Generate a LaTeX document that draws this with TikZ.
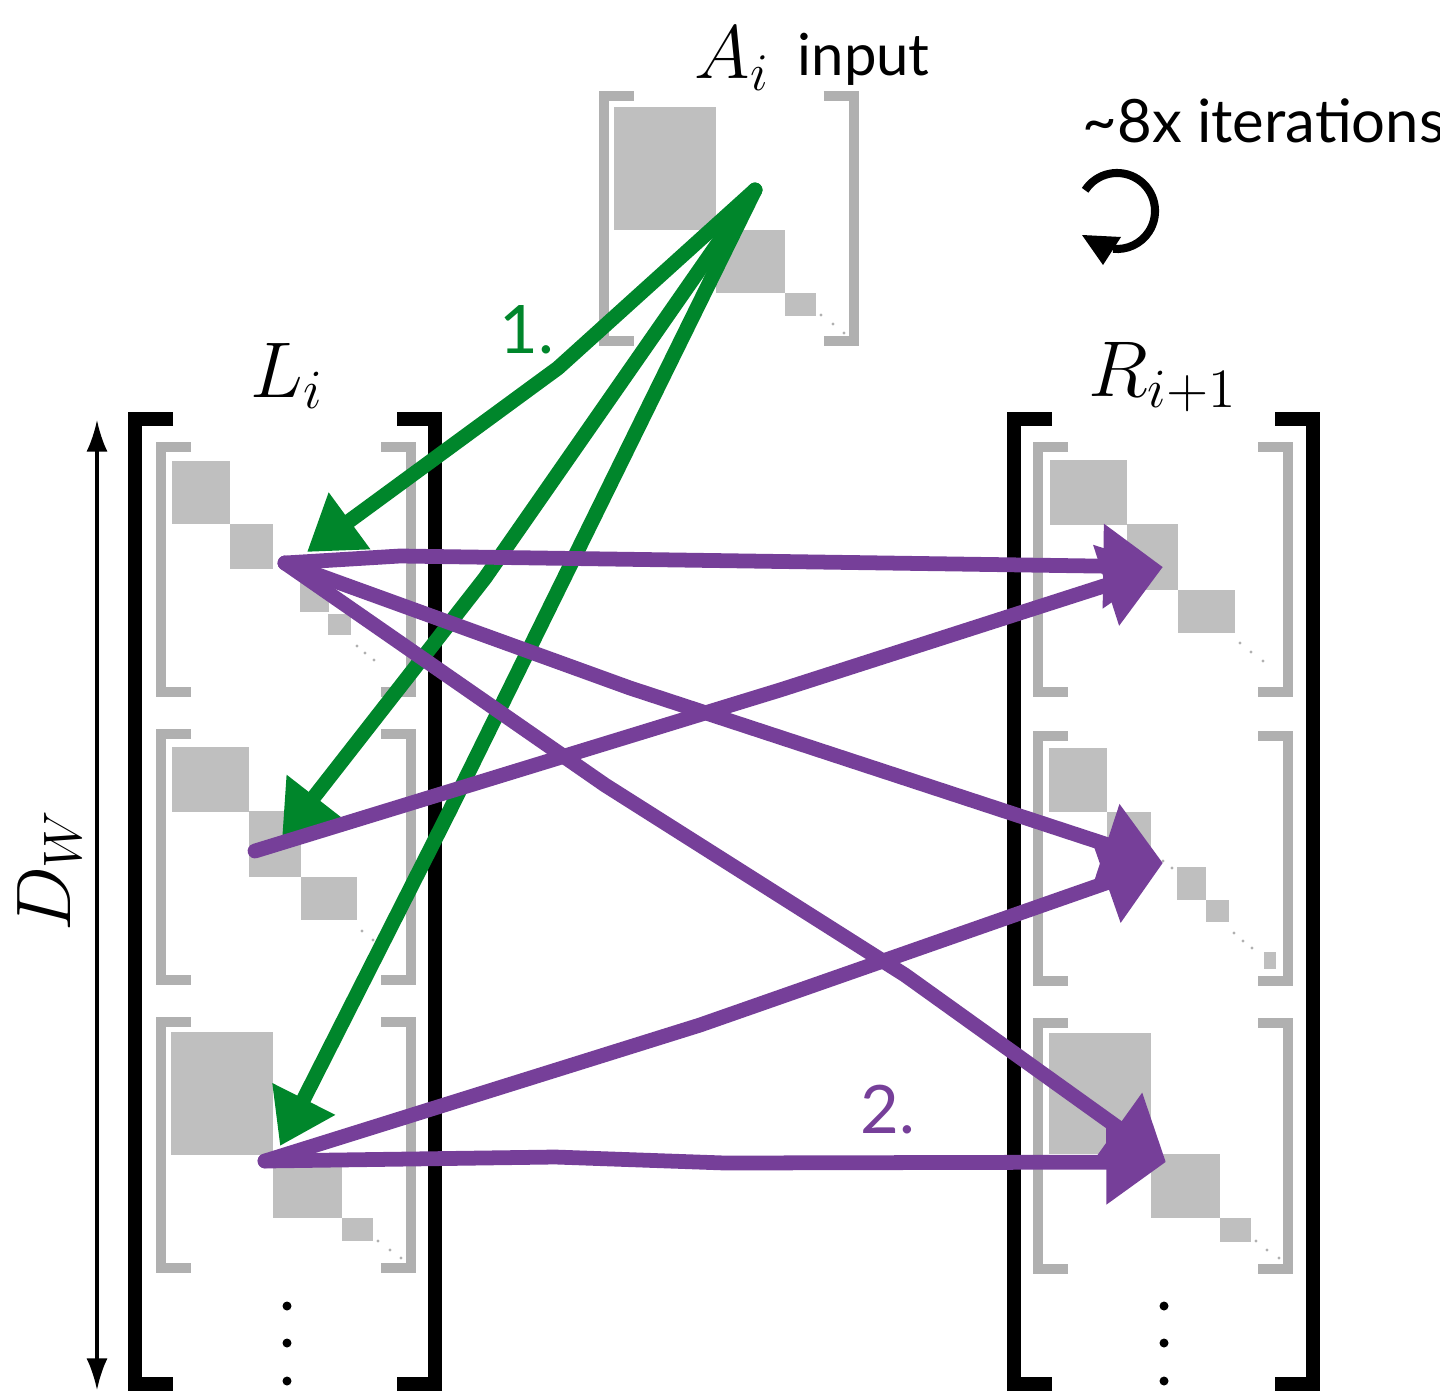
\RequirePackage{fix-cm}
\documentclass[tikz,border=0pt]{standalone}
\usepackage{fontspec}
\usepackage{tikz}
\usetikzlibrary{arrows.meta}
\newfontfamily\gillfont{Lato}
\definecolor{stepgreen}{RGB}{0,134,43}
\definecolor{steppurple}{RGB}{118,63,153}
\definecolor{brgray}{RGB}{176,176,176}
\definecolor{blkgray}{RGB}{191,191,191}

% pair of brackets: style, left x, right x, top y, bottom y, arm
\newcommand{\brpair}[6]{%
  \draw[#1] (#2+#6,#4) -- (#2,#4) -- (#2,#5) -- (#2+#6,#5);
  \draw[#1] (#3-#6,#4) -- (#3,#4) -- (#3,#5) -- (#3-#6,#5);
}

\begin{document}
\begin{tikzpicture}[x=0.01cm, y=-0.01cm,
    mat/.style={line width=4pt, black},
    submat/.style={line width=2.85pt, brgray},
    blk/.style={blkgray},
    tinydot/.style={brgray},
    greenarrow/.style={line width=4.2pt, stepgreen, line cap=round, line join=round, -{Triangle[length=15pt,width=19pt]}},
    purplearrow/.style={line width=4.2pt, steppurple, line cap=round, line join=round, -{Triangle[length=17pt,width=23pt]}},
    lbl/.style={anchor=base west, inner sep=0pt}]
    \useasboundingbox (0,0) rectangle (1440,1394);

    % input block A_i
    \brpair{submat}{603.5}{853.5}{96}{341}{30}
    \fill[blk] (614,107) rectangle (716,230);
    \fill[blk] (716,230) rectangle (785,293);
    \fill[blk] (785,293) rectangle (816,316);
    \foreach \p in {(821,315),(833,324),(844,333)} \fill[tinydot] \p circle[radius=1.6];

    % big brackets
    \brpair{mat}{135}{435}{419}{1384}{38}
    \brpair{mat}{1014}{1313}{419}{1384}{38}

    % left blocks
    \brpair{submat}{161}{411}{447}{692}{30}
    \fill[blk] (172,461) rectangle (230,524);
    \fill[blk] (230,524) rectangle (273,569);
    \fill[blk] (300,576) rectangle (329,612);
    \fill[blk] (328,614) rectangle (351,635);
    \foreach \p in {(357,646),(365,653),(374,660)} \fill[tinydot] \p circle[radius=1.6];

    \brpair{submat}{161}{411}{734}{980}{30}
    \fill[blk] (172,747) rectangle (249,812);
    \fill[blk] (249,811) rectangle (301,877);
    \fill[blk] (301,877) rectangle (357,920);
    \foreach \p in {(362,931),(373,940),(384,949)} \fill[tinydot] \p circle[radius=1.6];

    \brpair{submat}{161}{411}{1022}{1268}{30}
    \fill[blk] (171,1032) rectangle (273,1155);
    \fill[blk] (273,1155) rectangle (342,1218);
    \fill[blk] (342,1218) rectangle (373,1241);
    \foreach \p in {(378,1241),(390,1250),(401,1258)} \fill[tinydot] \p circle[radius=1.6];

    % right blocks
    \brpair{submat}{1038}{1288}{447}{692}{30}
    \fill[blk] (1050,460) rectangle (1127,525);
    \fill[blk] (1127,524) rectangle (1178,590);
    \fill[blk] (1178,590) rectangle (1235,633);
    \foreach \p in {(1240,643),(1251,652),(1263,661)} \fill[tinydot] \p circle[radius=1.6];

    \brpair{submat}{1038}{1288}{736}{981}{30}
    \fill[blk] (1049,748) rectangle (1107,812);
    \fill[blk] (1107,812) rectangle (1151,853);
    \fill[blk] (1177,867) rectangle (1206,900);
    \fill[blk] (1206,900) rectangle (1229,922);
    \fill[blk] (1264,952) rectangle (1276,969);
    \foreach \p in {(1154,854),(1163,861),(1172,868),(1234,933),(1243,941),(1252,948)} \fill[tinydot] \p circle[radius=1.6];

    \brpair{submat}{1038}{1288}{1023}{1269}{30}
    \fill[blk] (1049,1033) rectangle (1151,1154);
    \fill[blk] (1151,1154) rectangle (1220,1218);
    \fill[blk] (1220,1218) rectangle (1251,1242);
    \foreach \p in {(1256,1241),(1267,1250),(1279,1258)} \fill[tinydot] \p circle[radius=1.6];

    % vertical dots
    \foreach \y in {1306,1343,1381} {
        \fill (287,\y) circle[radius=4.5];
        \fill (1164,\y) circle[radius=4.5];
    }

    % labels
    \node[lbl, font=\fontsize{21.5}{24}\selectfont] (ai) at (694,79) {$A_i$};
    \node[lbl, font=\gillfont\fontsize{16.5}{20}\selectfont] (inp) at (797,76) {input};
    \node[lbl, font=\gillfont\fontsize{17}{20}\selectfont] (iter) at (1082,143) {\textasciitilde8x iterations};
    \node[lbl, font=\fontsize{22.5}{26}\selectfont] (li) at (250,397) {$L_i$};
    \node[lbl, font=\fontsize{22.5}{26}\selectfont] (ri) at (1088,396) {$R_{i+1}$};
    \node[lbl, rotate=90, font=\fontsize{22}{26}\selectfont] (dw) at (70,932) {$D_W$};
    \node[lbl, text=stepgreen, font=\gillfont\fontsize{19}{24}\selectfont] (one) at (499,353) {1.};
    \node[lbl, text=steppurple, font=\gillfont\fontsize{19}{24}\selectfont] (two) at (860,1133) {2.};

    % height arrow
    \coordinate (dtop) at (97,420);
    \coordinate (dbot) at (97,1390);
    \draw[{Latex[length=9pt,width=6pt]}-{Latex[length=9pt,width=6pt]}, line width=0.9pt] (dtop) -- (dbot);

    % iteration loop
    \coordinate (loop) at (1117,211);
    \draw[line width=2.3pt] (loop) ++(-147:38) arc[start angle=-147, end angle=96, radius=38];
    \fill[shift={(loop)}] (-35,24) -- (4,26) -- (-14,54) -- cycle;

    % step 1
    \coordinate (src) at (755,190);
    \coordinate (l1) at (307,552);
    \coordinate (l2) at (282,838);
    \coordinate (l3) at (280,1146);
    \draw[greenarrow] (src) -- (558,368) -- (l1);
    \draw[greenarrow] (src) -- (485,578) -- (l2);
    \draw[greenarrow] (src) -- (450,810) -- (l3);

    % step 2
    \coordinate (p1) at (285,563);
    \coordinate (p2) at (255,851);
    \coordinate (p3) at (265,1161);
    \coordinate (r1) at (1163,567);
    \coordinate (r2) at (1163,863);
    \coordinate (r3) at (1166,1162);
    \draw[purplearrow] (p1) -- (400,556) -- (r1);
    \draw[purplearrow] (p1) -- (630,688) -- (r2);
    \draw[purplearrow] (p1) -- (605,785) -- (905,975) -- (r3);
    \draw[purplearrow] (p2) -- (780,690) -- (r1);
    \draw[purplearrow] (p3) -- (700,1025) -- (r2);
    \draw[purplearrow] (p3) -- (555,1157) -- (725,1163) -- (r3);
\end{tikzpicture}
\end{document}
